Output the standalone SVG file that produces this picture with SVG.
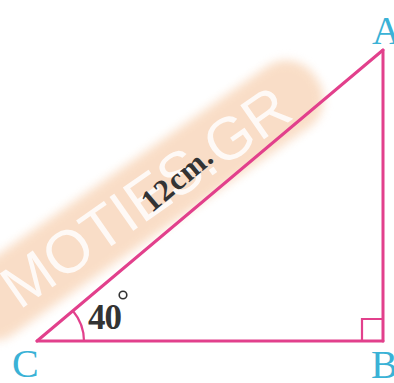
<svg xmlns="http://www.w3.org/2000/svg" width="394" height="383" viewBox="0 0 394 383">
  <defs>
    <filter id="blur" x="-20%" y="-50%" width="140%" height="200%">
      <feGaussianBlur stdDeviation="5"/>
    </filter>
    <style>
      .edge { stroke: #e2408c; stroke-width: 3; fill: none; stroke-linecap: round; }
      .thin { stroke: #e2408c; stroke-width: 2.2; fill: none; }
      .vlabel { font-family: "Liberation Serif", "DejaVu Serif", serif; font-size: 40px; fill: #3ab2d6; }
      .meas { font-family: "Liberation Serif", "DejaVu Serif", serif; font-weight: bold; fill: #333; }
      .wm { font-family: "Liberation Sans", "DejaVu Sans", sans-serif; font-size: 60px; fill: #ffffff; opacity: 0.85; }
    </style>
  </defs>
  <rect width="394" height="383" fill="#ffffff"/>
  <g id="watermark" transform="translate(152,192) rotate(-35)">
    <rect x="-230" y="-37" width="430" height="74" rx="34" fill="#f5c39a" opacity="0.55" filter="url(#blur)"/>
    <text class="wm" x="-8" y="21" text-anchor="middle">MOTIES.GR</text>
  </g>
  <g id="connectors">
    <line id="CA" class="edge" x1="37" y1="341" x2="383" y2="50"/>
    <line id="AB" class="edge" x1="383" y1="50" x2="383" y2="341"/>
    <line id="CB" class="edge" x1="37" y1="341" x2="383" y2="341"/>
    <path id="rightangle" class="thin" d="M 362 341 V 319 H 383"/>
    <path id="anglearc" class="thin" d="M 84 341 A 47 47 0 0 0 73 311"/>
  </g>
  <g id="A"><text class="vlabel" x="372" y="44">A</text></g>
  <g id="B"><text class="vlabel" x="371" y="378">B</text></g>
  <g id="C"><text class="vlabel" x="12" y="377">C</text></g>
  <g id="length">
    <text class="meas" font-size="31" transform="translate(37,341) rotate(-40)" x="170" y="-24" letter-spacing="1">12cm.</text>
  </g>
  <g id="angle">
    <text class="meas" font-size="35" x="88" y="329" letter-spacing="-1">40</text>
    <circle cx="123" cy="295" r="3.8" fill="none" stroke="#333" stroke-width="1.6"/>
  </g>
</svg>
